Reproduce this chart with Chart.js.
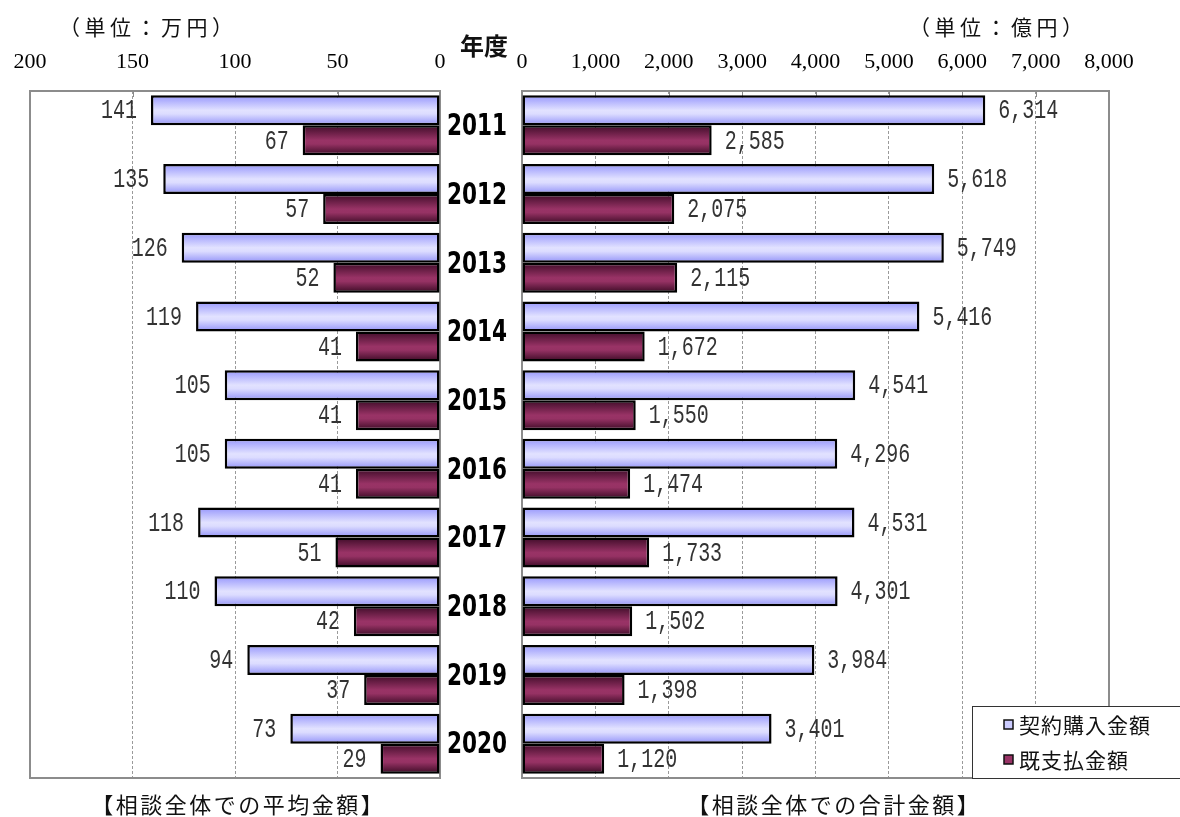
<!DOCTYPE html>
<html lang="ja">
<head>
<meta charset="utf-8">
<script src="https://cdn.jsdelivr.net/npm/chart.js@4.4.1/dist/chart.umd.min.js"></script>
<style>
html, body { margin: 0; padding: 0; background: #fff; }
#wrap { position: relative; width: 1180px; height: 817px; overflow: hidden; }
canvas { position: absolute; left: 0; top: 0; }
</style>
</head>
<body>
<div id="wrap">
  <canvas id="avgChart" width="1180" height="817"></canvas>
  <canvas id="totalChart" width="1180" height="817"></canvas>
</div>
<script>
// 年度
const years = ['2011', '2012', '2013', '2014', '2015', '2016', '2017', '2018', '2019', '2020'];

// 相談全体での平均金額（万円）
const avgPurchase = [141, 135, 126, 119, 105, 105, 118, 110, 94, 73];
const avgPaid     = [67, 57, 52, 41, 41, 41, 51, 42, 37, 29];

// 相談全体での合計金額（億円）
const totalPurchase = [6314, 5618, 5749, 5416, 4541, 4296, 4531, 4301, 3984, 3401];
const totalPaid     = [2585, 2075, 2115, 1672, 1550, 1474, 1733, 1502, 1398, 1120];

// 軸の目盛
const avgTicks = [0, 50, 100, 150, 200];
const totalTicks = [0, 1000, 2000, 3000, 4000, 5000, 6000, 7000, 8000];

const seriesNames = ['契約購入金額', '既支払金額'];

const JP = '"Noto Sans CJK JP", "Noto Sans", sans-serif';
const BLUE_STOPS = [[0, '#9696fc'], [0.5, '#e2e2ff'], [0.62, '#dcdcff'], [1, '#9292f8']];
const WINE_STOPS = [[0, '#3e0c28'], [0.5, '#993366'], [0.62, '#963264'], [1, '#3a0a24']];

// 一文字ずつ間隔を空けて描く（left: 左端から / center: 中央揃え）
function spacedText(ctx, text, x, y, spacing, align) {
  const chars = Array.from(text);
  const widths = chars.map(ch => ctx.measureText(ch).width);
  const total = widths.reduce((s, w) => s + w, 0) + spacing * (chars.length - 1);
  let cx = align === 'center' ? x - total / 2 : x;
  ctx.save();
  ctx.textAlign = 'left';
  chars.forEach((ch, k) => {
    ctx.fillText(ch, cx, y);
    cx += widths[k] + spacing;
  });
  ctx.restore();
}

// 棒に縦方向のグラデーションを付ける
const gradientBars = {
  id: 'gradientBars',
  beforeDatasetsDraw(chart) {
    const ctx = chart.ctx;
    chart.data.datasets.forEach((ds, di) => {
      const meta = chart.getDatasetMeta(di);
      meta.data.forEach(el => {
        const top = el.y - el.height / 2;
        const g = ctx.createLinearGradient(0, top, 0, top + el.height);
        ds.gradientStops.forEach(([o, c]) => g.addColorStop(o, c));
        el.options = Object.assign({}, el.options, { backgroundColor: g });
      });
    });
  }
};

// プロットエリアの枠と内向きの目盛線
const plotFrame = {
  id: 'plotFrame',
  beforeDatasetsDraw(chart) {
    const { ctx, chartArea: a } = chart;
    const xs = chart.scales.x;
    ctx.save();
    ctx.strokeStyle = '#8a8a8a';
    ctx.lineWidth = 1;
    xs.ticks.forEach(t => {
      const px = Math.round(xs.getPixelForValue(t.value)) + 0.5;
      ctx.beginPath();
      ctx.moveTo(px, a.top);
      ctx.lineTo(px, a.top + 6);
      ctx.stroke();
    });
    ctx.lineWidth = 2;
    ctx.strokeStyle = '#8c8c8c';
    ctx.strokeRect(a.left, a.top, a.right - a.left, a.bottom - a.top);
    ctx.restore();
  }
};

// 値ラベル
const valueLabels = {
  id: 'valueLabels',
  afterDatasetsDraw(chart, args, opts) {
    const ctx = chart.ctx;
    chart.data.datasets.forEach((ds, di) => {
      const meta = chart.getDatasetMeta(di);
      meta.data.forEach((el, i) => {
        const text = ds.data[i].toLocaleString('en-US');
        const x = opts.side === 'left' ? el.x - 14 : el.x + 13;
        ctx.save();
        ctx.font = '27px "Liberation Mono", "DejaVu Sans Mono", monospace';
        ctx.fillStyle = '#333';
        ctx.textBaseline = 'middle';
        ctx.textAlign = opts.side === 'left' ? 'right' : 'left';
        ctx.translate(x, el.y + 1);
        ctx.scale(0.74, 1);
        ctx.fillText(text, 0, 0);
        ctx.restore();
      });
    });
  }
};

// 単位・見出し・年度・凡例
const annotations = {
  id: 'annotations',
  afterDraw(chart, args, opts) {
    const { ctx } = chart;
    ctx.save();
    ctx.fillStyle = '#111';
    ctx.textBaseline = 'middle';
    ctx.textAlign = 'center';
    ctx.font = '21px ' + JP;
    spacedText(ctx, opts.unit, opts.unitX, 27, 4.5, 'center');
    ctx.font = '22px ' + JP;
    spacedText(ctx, opts.caption, opts.captionX, 805, 2.5, 'center');

    if (opts.side === 'left') {
      ctx.font = 'bold 24px ' + JP;
      ctx.fillText('年度', 484, 46);
      const ys = chart.scales.y;
      ctx.fillStyle = '#000';
      ctx.font = 'bold 30px "Liberation Sans Narrow", "DejaVu Sans Condensed", sans-serif';
      years.forEach((y, i) => {
        ctx.save();
        ctx.translate(477, ys.getPixelForValue(i) + 2);
        ctx.scale(0.8, 1);
        ctx.fillText(y, 0, 0);
        ctx.restore();
      });
    } else {
      // 凡例
      const lx = 972.5, ly = 706.5, lw = 220, lh = 72;
      ctx.fillStyle = '#fff';
      ctx.fillRect(lx, ly, lw, lh);
      ctx.strokeStyle = '#333';
      ctx.lineWidth = 1;
      ctx.strokeRect(lx, ly, lw, lh);
      const items = chart.legend.legendItems || [];
      items.forEach((it, k) => {
        const cy = 725 + k * 35;
        ctx.fillStyle = it.fillStyle;
        ctx.fillRect(1004, cy - 5, 9, 9);
        ctx.strokeStyle = '#111';
        ctx.lineWidth = 1.5;
        ctx.strokeRect(1004, cy - 5, 9, 9);
        ctx.fillStyle = '#111';
        ctx.font = '21px ' + JP;
        spacedText(ctx, it.text, 1019, cy, 1, 'left');
      });
    }
    ctx.restore();
  }
};

function makeChart(id, side, purchase, paid, tickValues, max, padding, unit, unitX, caption, captionX) {
  return new Chart(document.getElementById(id), {
    type: 'bar',
    data: {
      labels: years,
      datasets: [
        {
          label: seriesNames[0],
          data: purchase,
          backgroundColor: '#ccccff',
          gradientStops: BLUE_STOPS,
          borderColor: '#000',
          borderWidth: 2.5,
          borderSkipped: false
        },
        {
          label: seriesNames[1],
          data: paid,
          backgroundColor: '#993366',
          gradientStops: WINE_STOPS,
          borderColor: '#000',
          borderWidth: 2.5,
          borderSkipped: false
        }
      ]
    },
    options: {
      indexAxis: 'y',
      responsive: false,
      animation: false,
      devicePixelRatio: 1,
      locale: 'en-US',
      categoryPercentage: 0.874,
      barPercentage: 1,
      layout: { padding },
      scales: {
        x: {
          position: 'top',
          reverse: side === 'left',
          min: 0,
          max: max,
          afterBuildTicks: s => { s.ticks = tickValues.map(v => ({ value: v })); },
          afterFit: s => { s.height = 40; },
          ticks: {
            padding: 16,
            color: '#000',
            font: { family: '"Liberation Serif", "DejaVu Serif", serif', size: 22 }
          },
          grid: {
            drawTicks: false,
            lineWidth: 1,
            color: c => (c.tick && (c.tick.value === 0 || c.tick.value === max)) ? 'rgba(0,0,0,0)' : '#9a9a9a'
          },
          border: { display: false, dash: [3, 2] }
        },
        y: {
          display: false,
          grid: { display: false }
        }
      },
      plugins: {
        legend: { display: false },
        tooltip: { enabled: false },
        valueLabels: { side },
        annotations: { side, unit, unitX, caption, captionX }
      }
    },
    plugins: [gradientBars, plotFrame, valueLabels, annotations]
  });
}

makeChart('avgChart', 'left', avgPurchase, avgPaid, avgTicks, 200,
  { left: 30, right: 740, top: 51, bottom: 39 },
  '（単位：万円）', 146, '【相談全体での平均金額】', 237);

makeChart('totalChart', 'right', totalPurchase, totalPaid, totalTicks, 8000,
  { left: 522, right: 71, top: 51, bottom: 39 },
  '（単位：億円）', 996, '【相談全体での合計金額】', 833);
</script>
</body>
</html>
